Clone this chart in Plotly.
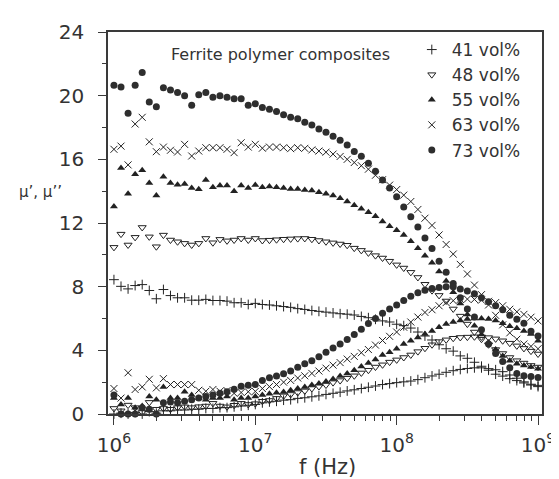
import plotly.graph_objects as go

# log10 of frequency (Hz), 20 points per decade
log_f = [6.00, 6.05, 6.10, 6.15, 6.20, 6.25, 6.30, 6.35, 6.40, 6.45,
         6.50, 6.55, 6.60, 6.65, 6.70, 6.75, 6.80, 6.85, 6.90, 6.95,
         7.00, 7.05, 7.10, 7.15, 7.20, 7.25, 7.30, 7.35, 7.40, 7.45,
         7.50, 7.55, 7.60, 7.65, 7.70, 7.75, 7.80, 7.85, 7.90, 7.95,
         8.00, 8.05, 8.10, 8.15, 8.20, 8.25, 8.30, 8.35, 8.40, 8.45,
         8.50, 8.55, 8.60, 8.65, 8.70, 8.75, 8.80, 8.85, 8.90, 8.95,
         9.00]
freq = [10 ** v for v in log_f]

series_names = ["41 vol%", "48 vol%", "55 vol%", "63 vol%", "73 vol%"]

mu1_41 = [8.44, 8.02, 7.86, 8.07, 8.13, 7.76, 7.24, 7.82, 7.44, 7.3, 7.3, 7.15, 7.15, 7.2, 7.13, 7.13, 7.09, 6.99, 6.99, 6.88, 6.95,
          6.88, 6.85, 6.8, 6.75, 6.7, 6.62, 6.57, 6.5, 6.45, 6.4,
          6.35, 6.3, 6.27, 6.22, 6.13, 6.05, 5.95, 5.85, 5.78, 5.64,
          5.55, 5.4, 5.15, 4.9, 4.65, 4.35, 4.1, 3.95, 3.65, 3.5,
          3.25, 3.0, 2.75, 2.5, 2.38, 2.22, 2.1, 1.95, 1.82, 1.72]
mu2_41 = [0.0, 0.05, 0.0, 0.1, 0.0, 0.15, 0.05, 0.2, 0.2, 0.25, 0.25, 0.3, 0.3, 0.35, 0.35, 0.4, 0.4, 0.45, 0.5, 0.55, 0.6,
          0.7, 0.76, 0.8, 0.87, 0.9, 0.98, 1.02, 1.08, 1.14, 1.23,
          1.3, 1.37, 1.45, 1.52, 1.6, 1.68, 1.76, 1.85, 1.91, 1.97,
          2.02, 2.07, 2.16, 2.28, 2.39, 2.5, 2.62, 2.72, 2.8, 2.86,
          2.9, 2.9, 2.85, 2.78, 2.66, 2.45, 2.25, 2.02, 1.87, 1.8]

mu1_48 = [10.47, 11.3, 10.62, 11.1, 11.72, 11.13, 10.51, 11.24, 10.93, 10.82, 10.72, 10.62, 10.72, 11.03, 10.76, 10.97, 10.88, 10.93, 11.03, 10.93, 11.03,
          10.9, 10.92, 10.95, 10.98, 11.0, 11.02, 11.03, 10.98, 10.9, 10.82,
          10.75, 10.68, 10.6, 10.42, 10.28, 10.12, 9.95, 9.8, 9.6, 9.37,
          9.17, 8.9, 8.58, 8.15, 7.75, 7.45, 7.1, 6.6, 6.15, 5.65,
          5.15, 4.7, 4.35, 4.05, 3.8, 3.55, 3.35, 3.2, 3.05, 2.95]
mu2_48 = [0.35, 0.2, 0.56, 0.4, 0.1, 0.73, 0.3, 0.35, 0.3, 0.4, 0.45, 0.4, 0.46, 0.5, 0.67, 0.5, 0.45, 0.55, 0.67, 0.6, 0.65,
          0.8, 0.85, 0.98, 1.14, 1.23, 1.35, 1.45, 1.6, 1.72, 1.82,
          1.97, 2.1, 2.25, 2.4, 2.58, 2.75, 2.95, 3.09, 3.26, 3.4,
          3.55, 3.71, 3.92, 4.13, 4.35, 4.55, 4.66, 4.76, 4.81, 4.83,
          4.85, 4.84, 4.8, 4.72, 4.6, 4.45, 4.28, 4.12, 3.95, 3.77]

mu1_55 = [13.04, 15.45, 13.83, 15.07, 15.32, 14.51, 13.73, 14.91, 14.51, 14.41, 14.45, 14.2, 14.12, 14.7, 14.24, 14.35, 14.35, 13.99, 14.35, 14.2, 14.39,
          14.25, 14.3, 14.25, 14.2, 14.14, 14.14, 14.08, 14.04, 13.93, 13.83,
          13.72, 13.55, 13.35, 13.12, 12.9, 12.68, 12.42, 12.1, 11.8, 11.55,
          11.24, 10.85, 10.41, 9.95, 9.5, 8.95, 8.35, 7.65, 6.95, 6.25,
          5.55, 5.0, 4.5, 4.05, 3.65, 3.35, 3.15, 3.05, 2.95, 2.85]
mu2_55 = [1.0, 0.6, 1.0, 0.4, 0.5, 1.1, 0.9, 1.7, 1.0, 1.0, 1.4, 1.2, 1.0, 0.9, 1.0, 1.0, 1.1, 0.9, 1.0, 1.0, 1.1,
          1.2, 1.27, 1.33, 1.39, 1.49, 1.6, 1.7, 1.82, 1.92, 2.04,
          2.2, 2.38, 2.55, 2.75, 2.98, 3.2, 3.43, 3.7, 3.88, 4.1,
          4.4, 4.6, 4.81, 5.02, 5.22, 5.45, 5.65, 5.78, 5.88, 5.97,
          6.0, 6.0, 5.97, 5.87, 5.7, 5.52, 5.38, 5.22, 5.02, 4.6]

mu1_63 = [16.63, 16.83, 15.65, 18.22, 18.64, 17.1, 16.48, 16.77, 16.57, 16.46, 16.94, 16.21, 16.52, 16.73, 16.73, 16.73, 16.63, 16.42, 17.04, 16.77, 16.94,
          16.7, 16.77, 16.77, 16.73, 16.67, 16.73, 16.69, 16.59, 16.52, 16.45,
          16.33, 16.18, 16.0, 15.8, 15.6, 15.38, 15.0, 14.72, 14.38, 14.1,
          13.75, 13.35, 12.85, 12.3, 11.85, 11.25, 10.65, 10.05, 9.4, 8.8,
          8.1, 7.5, 6.85, 6.2, 5.6, 5.1, 4.7, 4.4, 4.25, 4.1]
mu2_63 = [1.6, 1.0, 2.59, 1.54, 1.7, 2.18, 1.64, 2.22, 1.85, 1.85, 1.85, 1.85, 1.49, 1.43, 1.54, 1.43, 1.47, 1.3, 1.35, 1.4, 1.42,
          1.6, 1.72, 1.85, 2.0, 2.11, 2.26, 2.4, 2.55, 2.7, 2.88,
          3.07, 3.23, 3.45, 3.62, 3.85, 4.05, 4.33, 4.62, 4.88, 5.15,
          5.45, 5.78, 6.09, 6.38, 6.55, 6.8, 7.0, 7.12, 7.2, 7.22,
          7.2, 7.15, 7.08, 7.0, 6.8, 6.58, 6.42, 6.26, 6.08, 5.85]

mu1_73 = [20.65, 20.55, 18.9, 20.65, 21.45, 19.6, 19.3, 20.5, 20.35, 20.2, 20.0, 19.4, 20.05, 20.2, 19.9, 20.0, 19.9, 19.8, 19.8, 19.4, 19.5,
          19.25, 19.15, 19.0, 18.8, 18.65, 18.55, 18.33, 18.15, 17.9, 17.7,
          17.45, 17.2, 16.9, 16.5, 16.2, 15.75, 15.25, 14.7, 14.2, 13.65,
          13.0, 12.4, 11.75, 11.05, 10.4, 9.6, 8.9, 8.2, 7.3, 6.6,
          6.1, 5.3, 4.4, 3.8, 3.3, 2.9, 2.55, 2.4, 2.35, 2.3]
mu2_73 = [1.2, 0.0, 0.0, 0.0, 0.4, 0.3, 0.0, 0.7, 0.75, 0.7, 0.8, 0.9, 1.0, 1.1, 1.2, 1.3, 1.4, 1.55, 1.75, 1.8, 1.85,
          2.1, 2.28, 2.38, 2.53, 2.7, 2.93, 3.15, 3.35, 3.6, 3.88,
          4.15, 4.4, 4.68, 5.0, 5.33, 5.68, 6.0, 6.33, 6.6, 6.85,
          7.13, 7.4, 7.61, 7.78, 7.88, 7.94, 8.0, 8.0, 7.86, 7.72,
          7.55, 7.3, 7.05, 6.8, 6.55, 6.2, 5.95, 5.7, 5.2, 4.9]

mu_real = [mu1_41, mu1_48, mu1_55, mu1_63, mu1_73]
mu_imag = [mu2_41, mu2_48, mu2_55, mu2_63, mu2_73]

ink = "#222222"
markers = [
    dict(symbol="cross-thin", size=7, color=ink, line=dict(color=ink, width=1)),
    dict(symbol="triangle-down-open", size=7, color=ink, line=dict(color=ink, width=1)),
    dict(symbol="triangle-up", size=7, color=ink, line=dict(width=0)),
    dict(symbol="x-thin", size=7, color=ink, line=dict(color=ink, width=1)),
    dict(symbol="circle", size=7, color="#2e2e2e", line=dict(width=0)),
]

fig = go.Figure()
for name, re_v, im_v, mk in zip(series_names, mu_real, mu_imag, markers):
    fig.add_trace(go.Scatter(x=freq, y=re_v, mode="markers", name=name,
                             legendgroup=name, marker=mk, cliponaxis=False))
    fig.add_trace(go.Scatter(x=freq, y=im_v, mode="markers", name=name,
                             legendgroup=name, showlegend=False, marker=mk,
                             cliponaxis=False))

font_family = "DejaVu Sans"
axis_col = "#3a3a3a"

minor_x = [m * 10 ** d for d in (6, 7, 8) for m in range(2, 10)]

fig.update_layout(
    width=559, height=479,
    margin=dict(l=100, r=20, t=20, b=73),
    paper_bgcolor="white", plot_bgcolor="white",
    font=dict(family=font_family, color="#333333"),
    showlegend=True,
    legend=dict(x=0.70, y=1.0, xanchor="left", yanchor="top",
                font=dict(size=17, family=font_family, color="#333333"),
                bgcolor="rgba(0,0,0,0)", tracegroupgap=0, itemwidth=30),
    xaxis=dict(type="log", range=[5.958, 9.028],
               tickmode="array", tickvals=[1e6, 1e7, 1e8, 1e9],
               ticktext=["10<sup>6</sup>", "10<sup>7</sup>", "10<sup>8</sup>", "10<sup>9</sup>"],
               ticks="outside", ticklen=9, tickwidth=1.2, tickcolor=axis_col,
               minor=dict(tickmode="array", tickvals=minor_x, ticks="outside",
                          ticklen=5, tickwidth=1, tickcolor=axis_col),
               showline=True, linecolor=axis_col, linewidth=1.5, mirror=True,
               showgrid=False, zeroline=False, ticklabelstandoff=3,
               tickfont=dict(size=20, family=font_family, color="#333333")),
    yaxis=dict(range=[0, 24], tickmode="array", tickvals=[0, 4, 8, 12, 16, 20, 24],
               ticks="outside", ticklen=8, tickwidth=1.2, tickcolor=axis_col,
               minor=dict(tickmode="array", tickvals=[2, 6, 10, 14, 18, 22], ticks="outside",
                          ticklen=4, tickwidth=1, tickcolor=axis_col),
               showline=True, linecolor=axis_col, linewidth=1.5, mirror=True,
               showgrid=False, zeroline=False, ticklabelstandoff=10,
               tickfont=dict(size=20, family=font_family, color="#333333")),
    annotations=[
        dict(text="Ferrite polymer composites", xref="paper", yref="paper",
             x=0.141, y=0.94, xanchor="left", yanchor="middle", showarrow=False,
             font=dict(size=16, family=font_family, color="#333333")),
        dict(text="f (Hz)", xref="paper", yref="paper",
             x=0.506, y=-0.14, xanchor="center", yanchor="middle", showarrow=False,
             font=dict(size=21, family=font_family, color="#333333")),
        dict(text="μ’, μ’’", xref="paper", yref="paper",
             x=-0.155, y=0.58, xanchor="center", yanchor="middle", showarrow=False,
             font=dict(size=15, family=font_family, color="#333333")),
    ],
)

fig.write_html("out.html")
